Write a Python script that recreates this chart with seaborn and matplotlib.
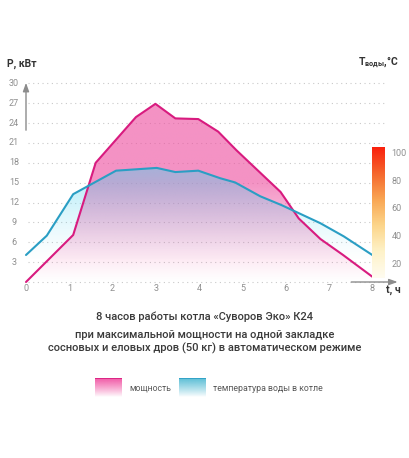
import numpy as np
import pandas as pd
import matplotlib
matplotlib.use("Agg")
import matplotlib.pyplot as plt
from matplotlib.colors import LinearSegmentedColormap, to_rgb
import seaborn as sns

# ---- data ----
hours_power = [0, 1.09, 1.61, 2.54, 2.99, 3.45, 3.98, 4.44, 4.86, 5.88, 6.3, 6.8, 7.32, 8.0]
power_kw = [0, 7.1, 18.0, 24.9, 26.9, 24.7, 24.6, 22.7, 19.9, 13.6, 9.6, 6.5, 4.1, 0.8]

hours_temp = [0, 0.48, 1.09, 2.08, 3.02, 3.45, 3.98, 4.49, 4.83, 5.41, 5.91, 6.8, 7.34, 8.0]
water_temp = [26, 40, 70, 87, 89, 86, 87, 81.5, 78.5, 68.5, 62, 49, 39.5, 26]

x_ticks = [0, 1, 2, 3, 4, 5, 6, 7, 8]
p_ticks = [3, 6, 9, 12, 15, 18, 21, 24, 27, 30]
t_ticks = [20, 40, 60, 80, 100]

title_lines = [
    "8 часов работы котла «Суворов Эко» К24",
    "при максимальной мощности на одной закладке",
    "сосновых и еловых дров (50 кг) в автоматическом режиме",
]
legend_labels = ["мощность", "температура воды в котле"]

PINK = "#d81b7f"
BLUE = "#2a9ec4"
GREY = "#8f8f8f"

sns.set_style("white")
plt.rcParams["font.family"] = ["Roboto", "DejaVu Sans"]

W, H = 410, 458
fig = plt.figure(figsize=(W / 100, H / 100), dpi=100)


def px_rect(x0, y0, x1, y1):
    return [x0 / W, 1 - y1 / H, (x1 - x0) / W, (y1 - y0) / H]


# pixel calibration of the main plot
X0, X8 = 26.0, 372.3
Y0, Y30 = 282.0, 83.3
ppx = (X8 - X0) / 8
ppy = (Y0 - Y30) / 30
# temperature scale (right bar): 20 at y=263.3, 100 at y=152.7
T20_Y, T_PX = 263.3, 1.3825


def temp_to_p(t):
    return (Y0 - (T20_Y - (np.asarray(t) - 20) * T_PX)) / ppy


ax = fig.add_axes(px_rect(10, 75, 400, 290))
ax.axis("off")

df_p = pd.DataFrame({"t": hours_power, "v": power_kw})
df_t = pd.DataFrame({"t": hours_temp, "v": temp_to_p(water_temp)})

# dotted grid
ax.hlines([0] + p_ticks, 0.05, 8.3, color="#c9c9c9", lw=0.8,
          linestyles=(0, (1, 3.2)), zorder=1)

# gradient fills clipped to the areas under the lines
ext = [0, 8, 0, 30]
yy = np.linspace(30, 0, 300)[:, None]


def grad(rgb, alpha):
    img = np.zeros((300, 2, 4))
    img[..., :3] = rgb
    img[..., 3] = np.repeat(alpha, 2, axis=1)
    return img


pink_a = 0.62 * np.clip(yy / 15, 0, 1) ** 1.1
blue_a = 0.46 * np.clip((yy - 3) / 14, 0, 1) ** 1.3

for df, rgb, al, z in [(df_p, np.array([238, 80, 160]) / 255, pink_a, 2),
                       (df_t, np.array([80, 212, 240]) / 255, blue_a, 3)]:
    poly = ax.fill_between(df["t"], df["v"], 0, color="none", lw=0)
    im = ax.imshow(grad(rgb, al), extent=ext, aspect="auto", zorder=z,
                   interpolation="bilinear")
    im.set_clip_path(poly.get_paths()[0], transform=ax.transData)

sns.lineplot(data=df_p, x="t", y="v", ax=ax, color=PINK, lw=1.5, zorder=5)
sns.lineplot(data=df_t, x="t", y="v", ax=ax, color=BLUE, lw=1.5, zorder=6)
ax.set_xlim((10 - X0) / ppx, (400 - X0) / ppx)
ax.set_ylim(-(290 - Y0) / ppy, (Y0 - 75) / ppy)

# axis arrows
arr = dict(arrowstyle="-|>,head_length=0.5,head_width=0.18", color="#8c8c8c", lw=1)
ax.annotate("", xy=(0, 30.5), xytext=(0, 22.5), arrowprops=arr, zorder=7)
ax.annotate("", xy=(8.65, 0), xytext=(7.45, 0), arrowprops=arr, zorder=7)

# tick labels
for v in p_ticks:
    ax.text((14 - X0) / ppx, v, str(v), ha="center", va="center",
            fontsize=6.5, color=GREY)
for v in x_ticks:
    ax.text(v, -(288.5 - Y0) / ppy, str(v), ha="center", va="center",
            fontsize=6.5, color=GREY)

fig.text(7 / W, 1 - 64 / H, "P, кВт", fontsize=7.5, fontweight="bold",
         color="#333333", va="center")
fig.text(399 / W, 1 - 62 / H, r"T$_{\mathregular{воды}}$,°C", fontsize=7.5,
         fontweight="bold", color="#333333", va="center", ha="right")
fig.text(386 / W, 1 - 290 / H, "t, ч", fontsize=7.5, fontweight="bold",
         color="#333333", va="center")

# temperature colour bar
cax = fig.add_axes(px_rect(372, 147, 384.5, 278))
heat = LinearSegmentedColormap.from_list(
    "heat", ["#fffcf0", "#fef2c8", "#fcd58a", "#f9a552", "#f5652c", "#fa1e0c"])
tmin = 20 - (278 - T20_Y) / T_PX
tmax = 20 + (T20_Y - 147) / T_PX
cax.imshow(np.linspace(tmax, tmin, 200)[:, None], cmap=heat, aspect="auto",
           extent=[0, 1, tmin, tmax], vmin=tmin, vmax=tmax)
cax.set_ylim(tmin, tmax)
cax.set_xticks([])
cax.set_yticks(t_ticks)
cax.yaxis.tick_right()
cax.tick_params(axis="y", length=0, pad=5, labelsize=6.5, labelcolor=GREY)
for s in cax.spines.values():
    s.set_visible(False)

# caption
for txt, y in zip(title_lines, [317, 335, 348.5]):
    fig.text(0.5, 1 - y / H, txt, ha="center", va="center", fontsize=8,
             fontweight="medium", color="#3a3a3a")

# legend swatches
for (x0, x1), top, rgb, lbl, tx in [((95, 121.5), PINK, "#f04a9e", legend_labels[0], 129),
                                   ((179, 206), BLUE, "#4cb8d2", legend_labels[1], 213.5)]:
    lax = fig.add_axes(px_rect(x0, 377.5, x1, 397))
    img = np.ones((100, 2, 4))
    img[..., :3] = to_rgb(rgb)
    img[..., 3] = np.linspace(0.95, 0, 100)[:, None] ** 0.9
    lax.imshow(img, aspect="auto", extent=[0, 1, 0, 1])
    lax.axhline(0.97, color=top, lw=1.2)
    lax.set_xlim(0, 1)
    lax.set_ylim(0, 1)
    lax.axis("off")
    fig.text(tx / W, 1 - 388.5 / H, lbl, fontsize=6.3, color="#5a5a5a", va="center")

fig.savefig("out.png", dpi=100)
